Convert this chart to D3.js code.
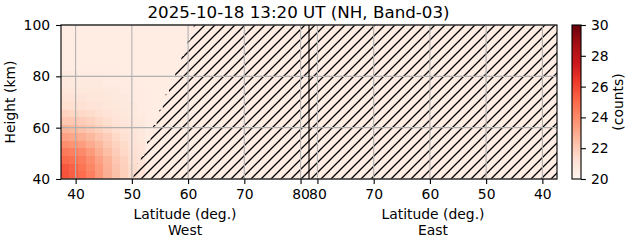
<!DOCTYPE html>
<html>
<head>
<meta charset="utf-8">
<script src="https://cdn.jsdelivr.net/npm/d3@7"></script>
<style>
  body { margin: 0; background: #fff; }
  svg { display: block; font-family: "DejaVu Sans", sans-serif; }
</style>
</head>
<body>
<svg id="chart" width="631" height="243"></svg>
<script>
// values
const titleText = "2025-10-18 13:20 UT (NH, Band-03)";
const latRange = [37.4, 81.5];
const heightRange = [40, 100];
const latTicks = [40, 50, 60, 70, 80];
const heightTicks = [40, 60, 80, 100];
const countTicks = [20, 22, 24, 26, 28, 30];
const countRange = [20, 30];

// heatmap cells (west side only, lower-left corner carries the signal)
const cellLat = [37.4, 38.9, 40.4, 41.9, 43.4, 44.9, 46.4, 47.9, 49.4, 50.9, 52.4];
const cellHeight = [40, 43, 46, 49, 52, 55, 58, 61, 64, 67, 70, 73, 76, 79, 82];
const counts = [
  [25.6, 25.3, 24.9, 24.3, 23.6, 22.9, 22.3, 21.8, 21.4, 21.1],
  [25.5, 25.2, 24.7, 24.1, 23.5, 22.8, 22.2, 21.8, 21.4, 21.1],
  [25.0, 24.8, 24.4, 23.9, 23.3, 22.7, 22.1, 21.7, 21.3, 21.0],
  [24.5, 24.3, 24.0, 23.5, 22.9, 22.4, 21.9, 21.5, 21.2, 21.0],
  [23.9, 23.7, 23.4, 23.0, 22.6, 22.1, 21.7, 21.4, 21.1, 20.9],
  [23.3, 23.1, 22.9, 22.6, 22.2, 21.9, 21.5, 21.2, 21.0, 20.8],
  [22.7, 22.6, 22.3, 22.1, 21.8, 21.5, 21.3, 21.1, 20.9, 20.8],
  [22.1, 22.1, 21.9, 21.7, 21.5, 21.3, 21.1, 20.9, 20.8, 20.7],
  [21.7, 21.6, 21.5, 21.4, 21.2, 21.1, 20.9, 20.8, 20.7, 20.6],
  [21.3, 21.3, 21.2, 21.1, 21.0, 20.9, 20.8, 20.7, 20.7, 20.6],
  [21.1, 21.0, 21.0, 20.9, 20.9, 20.8, 20.7, 20.7, 20.6, 20.6],
  [20.9, 20.9, 20.8, 20.8, 20.8, 20.7, 20.7, 20.6, 20.6, 20.6],
  [20.8, 20.7, 20.7, 20.7, 20.7, 20.6, 20.6, 20.6, 20.6, 20.5],
  [20.7, 20.7, 20.6, 20.6, 20.6, 20.6, 20.6, 20.5, 20.5, 20.5]
];
const backgroundCount = 20.5;

// no-data (hatched) region: west side starts at maskLat for each height band
const maskHeight = [40, 43, 46, 49, 52, 55, 58, 61, 64, 67, 70, 73, 76, 79, 82, 85, 88, 91, 94, 97, 100];
const maskLat = [50.3, 51.0, 51.6, 52.2, 52.7, 53.3, 53.8, 54.4, 54.9, 55.5,
                 56.0, 56.6, 57.1, 57.7, 58.2, 58.8, 59.3, 59.9, 60.4, 61.0];

// matplotlib "Reds"
const redsColors = ["#fff5f0", "#fee0d2", "#fcbba1", "#fc9272", "#fb6a4a",
                    "#ef3b2c", "#cb181d", "#a50f15", "#67000d"];

const svg = d3.select("#chart");
const fontSize = 13.9;
const box = { top: 25, bottom: 179, left: 61, mid: 309, right: 557 };

const xWest = d3.scaleLinear().domain(latRange).range([box.left, box.mid]);
const xEast = d3.scaleLinear().domain(latRange).range([box.right, box.mid]);
const y = d3.scaleLinear().domain(heightRange).range([box.bottom, box.top]);

const color = d3.scaleLinear()
  .domain(d3.range(redsColors.length).map(i => countRange[0] + i * (countRange[1] - countRange[0]) / (redsColors.length - 1)))
  .range(redsColors)
  .clamp(true);

const defs = svg.append("defs");

// '//' style hatch, about one line every 10px
const hs = 10;
defs.append("pattern")
  .attr("id", "hatch")
  .attr("patternUnits", "userSpaceOnUse")
  .attr("width", hs).attr("height", hs)
  .append("path")
  .attr("d", `M${-hs / 2},${hs / 2} L${hs / 2},${-hs / 2} M0,${hs} L${hs},0 M${hs / 2},${hs * 1.5} L${hs * 1.5},${hs / 2}`)
  .attr("stroke", "#000")
  .attr("stroke-width", 1.3)
  .attr("fill", "none");

// stair-step outline of the masked area on the west side
const maskPts = [[xWest(latRange[1]), y(heightRange[0])]];
maskLat.forEach((lat, i) => {
  maskPts.push([xWest(lat), y(maskHeight[i])]);
  maskPts.push([xWest(lat), y(maskHeight[i + 1])]);
});
maskPts.push([xWest(latRange[1]), y(heightRange[1])]);

defs.append("clipPath").attr("id", "westMask")
  .append("path")
  .attr("d", d3.line()(maskPts) + "Z");

const grad = defs.append("linearGradient")
  .attr("id", "cbarGrad")
  .attr("x1", 0).attr("y1", 1).attr("x2", 0).attr("y2", 0);
redsColors.forEach((c, i) => {
  grad.append("stop").attr("offset", i / (redsColors.length - 1)).attr("stop-color", c);
});

// panel backgrounds
[[box.left, box.mid], [box.mid, box.right]].forEach(([a, b]) => {
  svg.append("rect")
    .attr("x", a).attr("y", box.top)
    .attr("width", b - a).attr("height", box.bottom - box.top)
    .attr("fill", color(backgroundCount));
});

// heatmap
const cells = [];
counts.forEach((row, i) => row.forEach((v, j) => cells.push({ i, j, v })));
svg.append("g")
  .attr("shape-rendering", "crispEdges")
  .selectAll("rect")
  .data(cells)
  .join("rect")
  .attr("x", d => xWest(cellLat[d.j]))
  .attr("width", d => xWest(cellLat[d.j + 1]) - xWest(cellLat[d.j]))
  .attr("y", d => y(cellHeight[d.i + 1]))
  .attr("height", d => y(cellHeight[d.i]) - y(cellHeight[d.i + 1]))
  .attr("fill", d => color(d.v));

// hatch over no-data areas
svg.append("rect")
  .attr("x", box.left).attr("y", box.top)
  .attr("width", box.mid - box.left).attr("height", box.bottom - box.top)
  .attr("fill", "url(#hatch)")
  .attr("clip-path", "url(#westMask)");
svg.append("rect")
  .attr("x", box.mid).attr("y", box.top)
  .attr("width", box.right - box.mid).attr("height", box.bottom - box.top)
  .attr("fill", "url(#hatch)");

// grid
const grid = svg.append("g").attr("stroke", "#b0b0b0").attr("stroke-width", 1.1);
[xWest, xEast].forEach(x => {
  grid.selectAll(null).data(latTicks).join("line")
    .attr("x1", d => x(d)).attr("x2", d => x(d))
    .attr("y1", box.top).attr("y2", box.bottom);
});
grid.selectAll(null).data(heightTicks).join("line")
  .attr("x1", box.left).attr("x2", box.right)
  .attr("y1", d => y(d)).attr("y2", d => y(d));

// axes
function styleAxis(g) {
  g.select(".domain").remove();
  g.selectAll("line").attr("stroke", "#000").attr("stroke-width", 1.1);
  g.selectAll("text").attr("font-size", fontSize).attr("fill", "#000")
    .attr("font-family", "DejaVu Sans");
}

svg.append("g")
  .attr("transform", `translate(0,${box.bottom})`)
  .call(d3.axisBottom(xWest).tickValues(latTicks).tickSize(4.9).tickPadding(5.6).tickFormat(d3.format("d")))
  .call(styleAxis);
svg.append("g")
  .attr("transform", `translate(0,${box.bottom})`)
  .call(d3.axisBottom(xEast).tickValues(latTicks).tickSize(4.9).tickPadding(5.6).tickFormat(d3.format("d")))
  .call(styleAxis);
svg.append("g")
  .attr("transform", `translate(${box.left},0)`)
  .call(d3.axisLeft(y).tickValues(heightTicks).tickSize(4.9).tickPadding(6).tickFormat(d3.format("d")))
  .call(styleAxis);

// spines
svg.append("rect")
  .attr("x", box.left).attr("y", box.top)
  .attr("width", box.right - box.left).attr("height", box.bottom - box.top)
  .attr("fill", "none").attr("stroke", "#000").attr("stroke-width", 1.1);
svg.append("line")
  .attr("x1", box.mid).attr("x2", box.mid)
  .attr("y1", box.top).attr("y2", box.bottom)
  .attr("stroke", "#000").attr("stroke-width", 1.1);

// labels
const label = (x, yy, t, size) => svg.append("text")
  .attr("x", x).attr("y", yy)
  .attr("text-anchor", "middle")
  .attr("font-size", size || fontSize)
  .text(t);

label(298.5, 18, titleText, 16.7);
label((box.left + box.mid) / 2, 218.5, "Latitude (deg.)");
label((box.left + box.mid) / 2, 235, "West");
label((box.mid + box.right) / 2, 218.5, "Latitude (deg.)");
label((box.mid + box.right) / 2, 235, "East");

svg.append("text")
  .attr("transform", `translate(15,${(box.top + box.bottom) / 2}) rotate(-90)`)
  .attr("text-anchor", "middle")
  .attr("font-size", fontSize)
  .text("Height (km)");

// colorbar
const cb = { left: 572, right: 581 };
const cbScale = d3.scaleLinear().domain(countRange).range([box.bottom, box.top]);
svg.append("rect")
  .attr("x", cb.left).attr("y", box.top)
  .attr("width", cb.right - cb.left).attr("height", box.bottom - box.top)
  .attr("fill", "url(#cbarGrad)");
svg.append("g")
  .attr("transform", `translate(${cb.right},0)`)
  .call(d3.axisRight(cbScale).tickValues(countTicks).tickSize(4.9).tickPadding(5).tickFormat(d3.format("d")))
  .call(styleAxis);
svg.append("rect")
  .attr("x", cb.left).attr("y", box.top)
  .attr("width", cb.right - cb.left).attr("height", box.bottom - box.top)
  .attr("fill", "none").attr("stroke", "#000").attr("stroke-width", 1.1);

svg.append("text")
  .attr("transform", `translate(623,${(box.top + box.bottom) / 2}) rotate(-90)`)
  .attr("text-anchor", "middle")
  .attr("font-size", fontSize)
  .text("(counts)");
</script>
</body>
</html>
